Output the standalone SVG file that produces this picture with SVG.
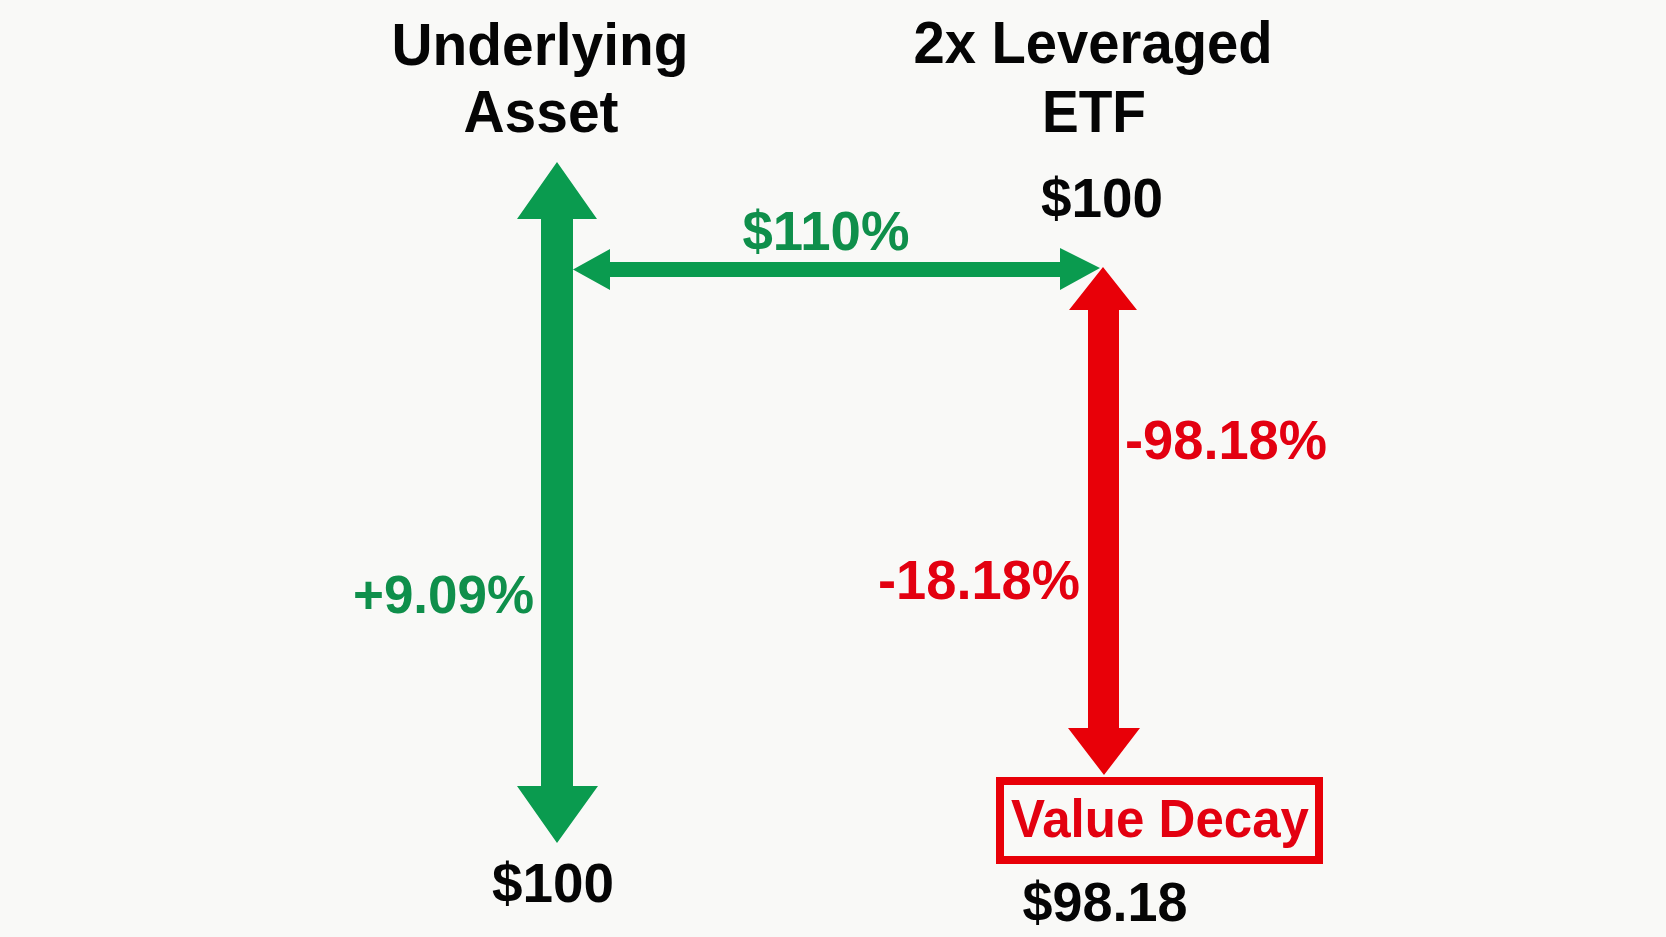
<svg xmlns="http://www.w3.org/2000/svg" width="1666" height="937" viewBox="0 0 1666 937">
  <style>
    .t { font-family: "Liberation Sans", Arial, sans-serif; font-weight: bold; }
    .blk { fill: #050505; }
    .grn { fill: #0f8f4b; }
    .red { fill: #e30010; }
    .garrow { fill: #0a9b4f; }
    .rarrow { fill: #e80008; }
  </style>
  <rect x="0" y="0" width="1666" height="937" fill="#f9f9f7"/>

  <g id="underlying">
    <text class="t blk" x="540" y="65" font-size="59" text-anchor="middle" textLength="297" lengthAdjust="spacingAndGlyphs">Underlying</text>
    <text class="t blk" x="541" y="132" font-size="59" text-anchor="middle" textLength="155" lengthAdjust="spacingAndGlyphs">Asset</text>
  </g>

  <g id="leveraged">
    <text class="t blk" x="1093" y="63" font-size="59" text-anchor="middle" textLength="359" lengthAdjust="spacingAndGlyphs">2x Leveraged</text>
    <text class="t blk" x="1094" y="132" font-size="59" text-anchor="middle" textLength="104" lengthAdjust="spacingAndGlyphs">ETF</text>
  </g>

  <g id="etf-start">
    <text class="t blk" x="1102" y="217" font-size="56" text-anchor="middle" textLength="122" lengthAdjust="spacingAndGlyphs">$100</text>
  </g>

  <g id="asset-end">
    <text class="t blk" x="553" y="902" font-size="56" text-anchor="middle" textLength="122" lengthAdjust="spacingAndGlyphs">$100</text>
  </g>

  <g id="value-decay">
    <rect x="1000" y="781" width="319" height="79" fill="none" stroke="#e80008" stroke-width="8"/>
    <text class="t red" x="1160" y="837" font-size="53" text-anchor="middle" textLength="298" lengthAdjust="spacingAndGlyphs">Value Decay</text>
  </g>

  <g id="etf-end">
    <text class="t blk" x="1105" y="921" font-size="56" text-anchor="middle" textLength="165" lengthAdjust="spacingAndGlyphs">$98.18</text>
  </g>

  <g id="connectors">
    <polygon class="garrow" points="557,162 597,219 573,219 573,786 598,786 557,843 517,786 541,786 541,219 517,219"/>
    <polygon class="garrow" points="573,269.5 610,249 610,262 1060,262 1060,248 1100,268 1060,290 1060,277 610,277 610,290"/>
    <polygon class="rarrow" points="1103,267 1137,310 1119,310 1119,728 1140,728 1104,775 1068,728 1088,728 1088,310 1069,310"/>
    <text class="t grn" x="826" y="250" font-size="55" text-anchor="middle" textLength="167" lengthAdjust="spacingAndGlyphs">$110%</text>
    <text class="t grn" x="353" y="613" font-size="53" textLength="181" lengthAdjust="spacingAndGlyphs">+9.09%</text>
    <text class="t red" x="1125" y="459" font-size="55" textLength="202" lengthAdjust="spacingAndGlyphs">-98.18%</text>
    <text class="t red" x="1080" y="599" font-size="56" text-anchor="end" textLength="202" lengthAdjust="spacingAndGlyphs">-18.18%</text>
  </g>
</svg>
